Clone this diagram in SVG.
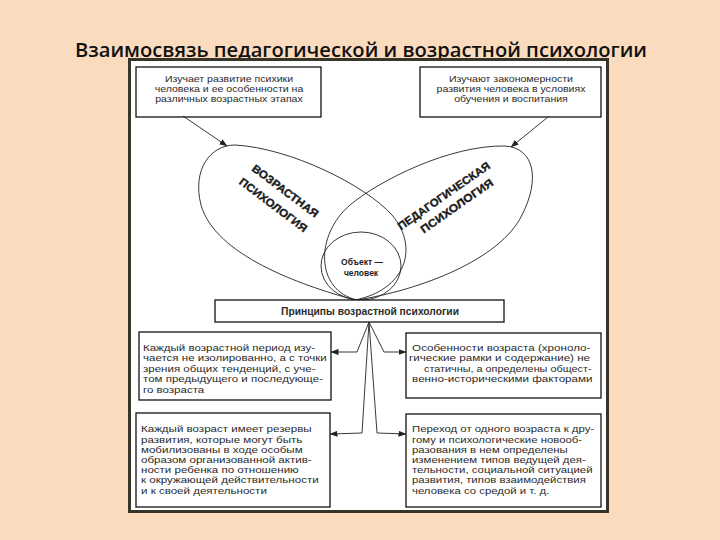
<svg xmlns="http://www.w3.org/2000/svg" width="720" height="540" viewBox="0 0 720 540">
<style>
.t{font-family:"Liberation Sans",Arial,sans-serif;fill:#2b2b2b}
.s1{font-size:8.8px}
.s2{font-size:9.3px}
.s3{font-size:9.1px}
.c{text-anchor:middle}
.box{fill:#fff;stroke:#111;stroke-width:1.3}
.shape{fill:none;stroke:#222;stroke-width:0.9}
.lbl{font-family:"Liberation Sans",Arial,sans-serif;font-weight:bold;font-size:11px;fill:#1a1a1a;text-anchor:middle;stroke:#1a1a1a;stroke-width:0.35}
.obj{font-family:"Liberation Sans",Arial,sans-serif;font-weight:bold;font-size:8.5px;fill:#222;text-anchor:middle}
.con{fill:none;stroke:#222;stroke-width:0.9}
</style>
<defs>
<marker id="ah" markerWidth="8" markerHeight="6" refX="7.5" refY="3" orient="auto" markerUnits="userSpaceOnUse">
<path d="M0,0 L8,3 L0,6 Z" fill="#222"/>
</marker>
</defs>
<rect x="0" y="0" width="720" height="540" fill="#FADBBE"/>
<text x="361" y="57" font-family="'Open Sans','Noto Sans',sans-serif" font-weight="550" font-size="20.5" fill="#111" text-anchor="middle" textLength="572" lengthAdjust="spacingAndGlyphs">Взаимосвязь педагогической и возрастной психологии</text>
<rect id="frame" x="129.5" y="59.5" width="478" height="452" fill="#fff" stroke="#37352a" stroke-width="3"/>

<g id="box-age-studies">
<rect class="box" x="136" y="67" width="185" height="50"/>
<g transform="translate(229,0) scale(1.2,1)">
<text class="t s1 c" x="0" y="82">Изучает развитие психики</text>
<text class="t s1 c" x="0" y="92">человека и ее особенности на</text>
<text class="t s1 c" x="0" y="102">различных возрастных этапах</text>
</g>
</g>
<g id="box-ped-studies">
<rect class="box" x="420" y="67" width="181" height="50"/>
<g transform="translate(511,0) scale(1.2,1)">
<text class="t s1 c" x="0" y="82">Изучают закономерности</text>
<text class="t s1 c" x="0" y="92">развития человека в условиях</text>
<text class="t s1 c" x="0" y="102">обучения и воспитания</text>
</g>
</g>

<g id="ellipse-age">
<path class="shape" d="M355,300 C300,285 215,255 201,205 C192,170 210,145 235,145 C290,148 365,185 392,215 C420,248 405,290 355,300 Z"/>
<text class="lbl" transform="translate(283,194) rotate(37)" textLength="80" lengthAdjust="spacingAndGlyphs">ВОЗРАСТНАЯ</text>
<text class="lbl" transform="translate(271,208) rotate(37)" textLength="82" lengthAdjust="spacingAndGlyphs">ПСИХОЛОГИЯ</text>
</g>
<g id="ellipse-ped">
<path class="shape" d="M357,300 C420,290 500,260 522,215 C540,180 535,148 505,146 C450,145 380,180 350,205 C315,235 315,290 357,300 Z"/>
<text class="lbl" transform="translate(446,199) rotate(-35)" textLength="110" lengthAdjust="spacingAndGlyphs">ПЕДАГОГИЧЕСКАЯ</text>
<text class="lbl" transform="translate(459,209) rotate(-35)" textLength="86" lengthAdjust="spacingAndGlyphs">ПСИХОЛОГИЯ</text>
</g>
<g id="object">
<ellipse class="shape" cx="361" cy="266" rx="40" ry="34"/>
<text class="obj" x="362" y="264.5">Объект —</text>
<text class="obj" x="361" y="276">человек</text>
</g>

<g id="box-principles">
<rect class="box" x="215" y="300" width="289" height="22"/>
<text class="t c" x="370" y="315" font-size="10.3" font-weight="bold" textLength="178" lengthAdjust="spacingAndGlyphs">Принципы возрастной психологии</text>
</g>

<g id="box-p1">
<rect class="box" x="139" y="332" width="192" height="68"/>
<g transform="translate(143,0) scale(1.24,1)">
<text class="t s2" x="0" y="351">Каждый возрастной период изу-</text>
<text class="t s2" x="0" y="361.5">чается не изолированно, а с точки</text>
<text class="t s2" x="0" y="372">зрения общих тенденций, с уче-</text>
<text class="t s2" x="0" y="382.5">том предыдущего и последующе-</text>
<text class="t s2" x="0" y="393">го возраста</text>
</g>
</g>
<g id="box-p2">
<rect class="box" x="406" y="333" width="195" height="65"/>
<g transform="translate(409,0) scale(1.25,1)">
<text class="t s2" x="2.5" y="351">Особенности возраста (хроноло-</text>
<text class="t s2" x="0" y="361.5">гические рамки и содержание) не</text>
<text class="t s2" x="12" y="372" textLength="134" lengthAdjust="spacingAndGlyphs">статичны, а определены общест-</text>
<text class="t s2" x="2.5" y="382.5">венно-историческими факторами</text>
</g>
</g>
<g id="box-p3">
<rect class="box" x="136" y="413" width="194" height="94"/>
<g transform="translate(141,0) scale(1.27,1)">
<text class="t s3" x="0" y="432.5">Каждый возраст имеет резервы</text>
<text class="t s3" x="0" y="442.7">развития, которые могут быть</text>
<text class="t s3" x="0" y="452.9">мобилизованы в ходе особым</text>
<text class="t s3" x="0" y="463.1">образом организованной актив-</text>
<text class="t s3" x="0" y="473.3">ности ребенка по отношению</text>
<text class="t s3" x="0" y="483.5">к окружающей действительности</text>
<text class="t s3" x="0" y="493.7">и к своей деятельности</text>
</g>
</g>
<g id="box-p4">
<rect class="box" x="406" y="414" width="195" height="93"/>
<g transform="translate(412,0) scale(1.25,1)">
<text class="t s3" x="0" y="432.5">Переход от одного возраста к дру-</text>
<text class="t s3" x="0" y="442.7">гому и психологические новооб-</text>
<text class="t s3" x="0" y="452.9">разования в нем определены</text>
<text class="t s3" x="0" y="463.1">изменением типов ведущей дея-</text>
<text class="t s3" x="0" y="473.3">тельности, социальной ситуацией</text>
<text class="t s3" x="0" y="483.5">развития, типов взаимодействия</text>
<text class="t s3" x="0" y="493.7">человека со средой и т. д.</text>
</g>
</g>

<g id="connectors">
<path class="con" d="M183,116 L227,146" marker-end="url(#ah)"/>
<path class="con" d="M548,117 L511,147" marker-end="url(#ah)"/>
<path class="con" d="M369,322 L357,352 L331,352" marker-end="url(#ah)"/>
<path class="con" d="M369,322 L384,352 L406,352" marker-end="url(#ah)"/>
<path class="con" d="M369,322 L362,433 L330,434" marker-end="url(#ah)"/>
<path class="con" d="M369,322 L377,433 L406,434" marker-end="url(#ah)"/>
</g>
</svg>
